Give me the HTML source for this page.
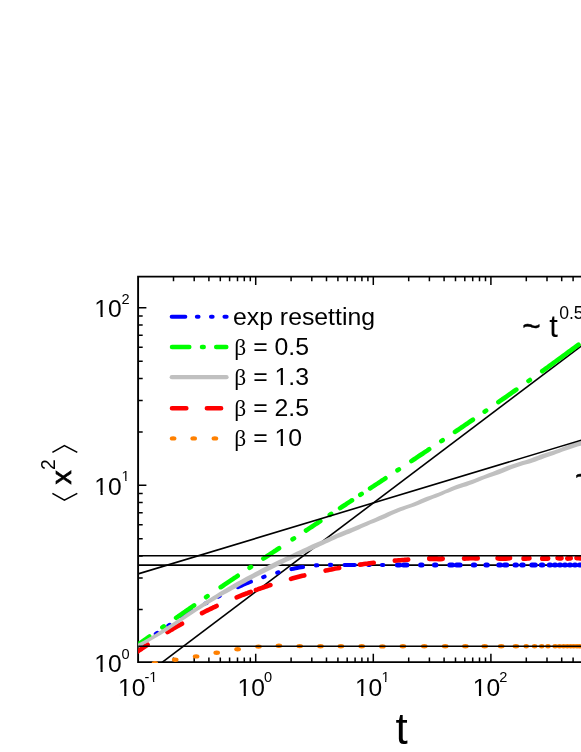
<!DOCTYPE html><html><head><meta charset="utf-8"><title>chart</title>
<style>html,body{margin:0;padding:0;background:#fff}svg{display:block;will-change:transform}text{font-family:"Liberation Sans",sans-serif;fill:#000}.s{font-family:"Liberation Serif",serif}</style></head><body>
<svg width="581" height="752" viewBox="0 0 581 752">
<rect width="581" height="752" fill="#fff"/>
<defs><clipPath id="c"><rect x="138.1" y="276.6" width="447.9" height="386.45"/></clipPath></defs>
<g stroke="#000" stroke-width="1.9" fill="none" stroke-linecap="butt">
<path d="M590,276.6 L138.1,276.6 L138.1,662.1 L590,662.1" stroke-linejoin="miter"/>
<path d="M173.5,662.1v-4.6M173.5,276.6v4.6M194.2,662.1v-4.6M194.2,276.6v4.6M208.9,662.1v-4.6M208.9,276.6v4.6M220.3,662.1v-4.6M220.3,276.6v4.6M229.6,662.1v-4.6M229.6,276.6v4.6M237.5,662.1v-4.6M237.5,276.6v4.6M244.3,662.1v-4.6M244.3,276.6v4.6M250.3,662.1v-4.6M250.3,276.6v4.6M255.7,662.1v-8.3M255.7,276.6v8.3M291.1,662.1v-4.6M291.1,276.6v4.6M311.8,662.1v-4.6M311.8,276.6v4.6M326.5,662.1v-4.6M326.5,276.6v4.6M337.9,662.1v-4.6M337.9,276.6v4.6M347.2,662.1v-4.6M347.2,276.6v4.6M355.1,662.1v-4.6M355.1,276.6v4.6M361.9,662.1v-4.6M361.9,276.6v4.6M367.9,662.1v-4.6M367.9,276.6v4.6M373.3,662.1v-8.3M373.3,276.6v8.3M408.7,662.1v-4.6M408.7,276.6v4.6M429.4,662.1v-4.6M429.4,276.6v4.6M444.1,662.1v-4.6M444.1,276.6v4.6M455.5,662.1v-4.6M455.5,276.6v4.6M464.8,662.1v-4.6M464.8,276.6v4.6M472.7,662.1v-4.6M472.7,276.6v4.6M479.5,662.1v-4.6M479.5,276.6v4.6M485.5,662.1v-4.6M485.5,276.6v4.6M490.9,662.1v-8.3M490.9,276.6v8.3M526.3,662.1v-4.6M526.3,276.6v4.6M547.0,662.1v-4.6M547.0,276.6v4.6M561.7,662.1v-4.6M561.7,276.6v4.6M573.1,662.1v-4.6M573.1,276.6v4.6M582.4,662.1v-4.6M582.4,276.6v4.6M138.1,609.4h4.6M138.1,578.1h4.6M138.1,555.9h4.6M138.1,538.7h4.6M138.1,524.7h4.6M138.1,512.8h4.6M138.1,502.5h4.6M138.1,493.4h4.6M138.1,485.3h8.3M138.1,431.9h4.6M138.1,400.6h4.6M138.1,378.4h4.6M138.1,361.2h4.6M138.1,347.2h4.6M138.1,335.3h4.6M138.1,325.0h4.6M138.1,315.9h4.6M138.1,307.8h8.3" stroke-width="1.5"/>
</g>
<g clip-path="url(#c)" fill="none" stroke-linecap="round" stroke-linejoin="round">
<path d="M138.1,565.1H590" stroke="#000" stroke-width="1.6" stroke-linecap="butt" fill="none"/>
<path d="M150,671.5L590,339.5" stroke="#000" stroke-width="1.6" stroke-linecap="butt" fill="none"/>
<path d="M139.7,644.5L141.2,643.5L142.8,642.5L144.3,641.4M155.8,633.8L157.2,632.8M168.3,625.7L169.7,624.8M181.7,617.3L183.5,616.2L185.2,615.1L187.0,614.1L188.7,613.1L190.5,612.0L192.2,611.0M205.3,603.5L206.7,602.8M218.3,596.6L219.7,595.9M237.9,587.2L239.7,586.3L241.6,585.5L243.4,584.7L245.3,583.9L247.2,583.2L249.0,582.4L250.9,581.7M263.2,577.1L264.6,576.6M277.2,572.7L278.6,572.3M291.5,569.1L293.4,568.7L295.3,568.3L297.2,567.9L299.1,567.6L301.1,567.3L303.0,567.0M315.9,565.4L317.3,565.3M329.8,564.9L331.2,564.9M344.5,565.0L346.3,565.0L348.0,565.0L349.7,565.0L351.4,565.0L353.1,565.0L354.8,565.0M368.3,565.0L369.7,565.0M381.9,565.0L383.3,565.0" stroke="#0000ff" stroke-width="4.1"/>
<path d="M397.4,565.0L398.4,565.0L399.5,565.0M403.5,565.0L405.2,565.0L406.9,565.0M420.6,565.0L422.0,565.0M434.5,565.0L435.9,565.0M449.8,565.0L451.1,565.0L452.5,565.0M456.5,565.0L458.3,565.0L460.1,565.0M473.3,565.0L474.7,565.0M485.9,565.0L487.3,565.0M498.8,565.0L500.5,565.0M504.5,565.0L505.6,565.0L506.7,565.0M515.0,565.0L516.4,565.0M521.8,565.0L523.2,565.0M531.8,565.0L533.5,565.0L535.3,565.0M541.3,565.0L542.7,565.0M549.3,565.0L550.5,565.0M554.5,565.0L555.5,565.0M559.5,565.0L560.5,565.0M564.5,565.0L565.5,565.0M569.5,565.0L570.5,565.0M574.5,565.0L575.5,565.0M579.5,565.0L581.0,565.0L582.5,565.0" stroke="#0000ff" stroke-width="5.0"/>
<path d="M131.9,649.0L133.8,647.6L135.8,646.2L137.7,644.8L139.7,643.4L141.6,642.1L143.6,640.7L145.5,639.3L147.5,637.9L149.4,636.5M162.4,627.4L163.8,626.4M176.1,617.8L177.9,616.6L179.7,615.3L181.5,614.1L183.3,612.8L185.1,611.6L186.9,610.3L188.7,609.1L190.5,607.8L192.3,606.6L194.1,605.4M206.1,597.2L207.5,596.2M220.7,587.2L222.6,586.0L224.5,584.7L226.4,583.4L228.3,582.1L230.1,580.9L232.0,579.6L233.9,578.3L235.8,577.1L237.7,575.8M249.6,567.8L251.0,566.9M263.4,558.6L265.4,557.3L267.3,556.0L269.3,554.7L271.2,553.4L273.2,552.1L275.2,550.8L277.1,549.5L279.1,548.2M292.6,539.3L294.0,538.4M306.0,530.5L307.8,529.3L309.6,528.1L311.4,527.0L313.1,525.8L314.9,524.6L316.7,523.5L318.5,522.3L320.3,521.1M329.8,514.9L331.2,513.9M340.1,508.1L342.1,506.8L344.1,505.5L346.1,504.2L348.0,502.9L350.0,501.6L352.0,500.3M360.3,494.8L361.7,493.9M370.1,488.4L372.0,487.1L373.9,485.9L375.8,484.6L377.8,483.4L379.7,482.1L381.6,480.8L383.5,479.6L385.4,478.3M397.5,470.3L398.9,469.4M411.4,461.1L413.4,459.8L415.4,458.5L417.3,457.1L419.3,455.8L421.3,454.5L423.3,453.2L425.2,451.9L427.2,450.6L429.2,449.2M441.3,441.1L442.7,440.2M455.0,431.9L457.0,430.5L459.0,429.2L461.0,427.8L463.0,426.5L464.9,425.1L466.9,423.8L468.9,422.4L470.9,421.0L472.9,419.7M484.7,411.6L486.1,410.6M498.4,402.1L500.4,400.7L502.4,399.3L504.4,398.0L506.4,396.6L508.4,395.2L510.3,393.8L512.3,392.4L514.3,391.0L516.3,389.6M528.5,381.0L529.9,380.0M542.2,371.2L544.1,369.8L546.0,368.4L547.9,367.1L549.8,365.7L551.7,364.3L553.6,362.9L555.5,361.5L557.4,360.1L559.4,358.7L561.3,357.3L563.2,355.9L565.1,354.5L567.0,353.1L568.9,351.7L570.8,350.3L572.7,348.9L574.6,347.5L576.5,346.1L578.5,344.7" stroke="#00ff00" stroke-width="4.6"/>
<path d="M131.9,655.6L133.8,654.2L135.8,652.8L137.8,651.4L139.7,650.0L141.7,648.7L143.7,647.3L145.6,646.0L147.6,644.7M167.5,632.1L169.3,631.0L171.1,629.9L172.9,628.9L174.7,627.8L176.5,626.7L178.4,625.7L180.2,624.7L182.0,623.7M202.0,613.1L203.8,612.2L205.6,611.3L207.4,610.4L209.3,609.5L211.1,608.6L212.9,607.7L214.8,606.9L216.6,606.0M236.7,597.3L238.5,596.6L240.3,595.9L242.0,595.2L243.8,594.5L245.5,593.8L247.3,593.2L249.1,592.5L250.8,591.8M255.9,590.0L257.7,589.4L259.5,588.7L261.3,588.1L263.1,587.5L265.0,586.8L266.8,586.2L268.6,585.6L270.4,585.0M291.0,578.9L292.9,578.3L294.8,577.8L296.7,577.3L298.6,576.8L300.5,576.3L302.4,575.8L304.3,575.4M325.6,570.6L327.5,570.2L329.5,569.8L331.4,569.4L333.4,569.0L335.3,568.6L337.3,568.3L339.2,567.9M359.8,564.6L361.8,564.4L363.8,564.1L365.8,563.8L367.7,563.6L369.7,563.3L371.7,563.0L373.7,562.8M394.8,560.6L396.7,560.5L398.6,560.3L400.5,560.2L402.5,560.0L404.4,559.9L406.3,559.7L408.2,559.6" stroke="#ff0000" stroke-width="4.6"/>
<path d="M429.6,558.5L431.5,558.5L433.3,558.5L435.1,558.6L436.9,558.7L438.7,558.8L440.5,558.8L442.4,558.7M464.4,558.4L466.3,558.2L468.1,558.0L470.0,557.8L471.8,557.8L473.7,557.8L475.5,558.0L477.4,558.1M497.9,558.1L499.9,558.3L501.8,558.4L503.8,558.4L505.7,558.3L507.7,558.1L509.7,557.9M523.9,558.4L525.7,558.4L527.4,558.2L529.1,558.1M542.6,558.4L544.3,558.4L546.1,558.4L547.8,558.3M557.9,557.9L559.6,558.1L561.2,558.2M567.6,558.3L569.0,558.2L570.4,558.1M576.8,557.8L578.6,557.9L580.4,558.1L582.1,558.3L583.9,558.4L585.6,558.4L587.4,558.4" stroke="#ff0000" stroke-width="5.3"/>
<path d="M129.3,647.9L132.3,646.5L135.2,645.1L138.2,643.6L141.2,642.0L144.1,640.4L147.1,638.7L150.1,637.0L153.1,635.2L156.1,633.4L159.0,631.6L162.0,629.7L165.0,627.8L168.0,625.8L171.0,623.9L174.0,621.9L177.0,619.9L180.0,617.9L182.9,615.9L185.9,613.8L188.9,611.8L191.9,609.8L194.9,607.8L197.9,605.9L200.9,603.9L203.9,602.0L206.9,600.1L209.9,598.2L212.9,596.3L215.9,594.4L218.9,592.6L221.9,590.8L224.9,589.0L227.8,587.2L230.8,585.5L233.8,583.7L236.8,582.0L239.9,580.4L242.9,578.7L245.9,577.1L248.9,575.5L251.9,573.9L254.9,572.3L257.9,570.7L260.9,569.1L263.9,567.6L266.9,566.0L269.9,564.5L272.9,563.0L275.9,561.6L278.9,560.1L281.9,558.7L284.9,557.2L288.0,555.8L291.0,554.4L294.0,553.0L297.0,551.6L300.0,550.2L303.0,548.8L306.0,547.4L309.0,546.0L312.0,544.6L315.0,543.3L318.0,542.0L321.1,540.7L324.1,539.4L327.1,538.1L330.1,536.7L333.1,535.4L336.1,534.0L339.1,532.7L342.1,531.4L345.2,530.2L348.2,529.1L351.1,527.9L354.1,526.7L357.1,525.5L360.2,524.2L363.2,523.0L366.2,521.7L369.2,520.4L372.2,519.2L375.2,517.9L378.2,516.6L381.1,515.3L384.1,513.9L387.1,512.5L390.1,511.2L393.2,509.9L396.2,508.7L399.3,507.6L402.4,506.6L405.4,505.6L408.4,504.5L411.3,503.4L414.3,502.2L417.2,500.9L420.2,499.6L423.2,498.3L426.2,497.1L429.3,496.0L432.3,494.9L435.3,493.8L438.3,492.7L441.3,491.5L444.3,490.2L447.2,488.9L450.2,487.6L453.3,486.2L456.3,485.0L459.3,483.9L462.3,482.9L465.3,482.0L468.3,481.0L471.3,480.0L474.3,479.0L477.2,477.8L480.3,476.6L483.3,475.4L486.3,474.2L489.3,473.0L492.3,471.9L495.2,470.8L498.2,469.6L501.1,468.4L504.1,467.3L507.1,466.1L510.2,464.9L513.3,463.9L516.4,462.9L519.4,462.0L522.4,461.1L525.4,460.2L528.3,459.3L531.3,458.2L534.2,457.1L537.2,456.0L540.2,454.8L543.2,453.8L546.3,452.8L549.3,451.8L552.3,450.9L555.3,450.0L558.3,448.9L561.3,447.8L564.2,446.6L567.2,445.4L570.3,444.2L573.3,443.1L576.4,442.2L579.4,441.4L582.4,440.6L585.4,439.9L588.4,439.1L591.4,438.2L592.6,442.1L589.6,443.1L586.6,444.1L583.6,445.0L580.6,445.8L577.6,446.6L574.7,447.5L571.7,448.4L568.8,449.4L565.8,450.5L562.7,451.6L559.7,452.7L556.7,453.8L553.7,454.9L550.7,456.0L547.7,457.0L544.8,458.1L541.8,459.2L538.8,460.3L535.8,461.4L532.7,462.4L529.7,463.4L526.6,464.3L523.6,465.1L520.6,465.9L517.6,466.9L514.7,467.9L511.8,469.1L508.9,470.3L505.9,471.6L502.9,472.8L499.8,474.0L496.8,475.0L493.7,476.0L490.7,477.0L487.7,478.0L484.7,479.1L481.7,480.3L478.8,481.5L475.7,482.8L472.7,484.0L469.7,485.1L466.7,486.2L463.7,487.1L460.7,488.1L457.7,489.0L454.7,490.0L451.8,491.2L448.8,492.4L445.7,493.6L442.7,494.9L439.7,496.2L436.7,497.4L433.7,498.6L430.7,499.8L427.8,501.0L424.8,502.2L421.8,503.5L418.8,504.7L415.7,505.9L412.7,507.0L409.6,508.1L406.6,509.1L403.6,510.2L400.7,511.3L397.8,512.5L394.8,513.8L391.9,515.1L388.9,516.5L385.9,517.9L382.9,519.3L379.8,520.5L376.8,521.7L373.8,522.9L370.8,524.1L367.8,525.4L364.8,526.7L361.8,528.1L358.9,529.4L355.9,530.8L352.9,532.1L349.8,533.4L346.8,534.5L343.9,535.7L340.9,536.9L337.9,538.1L334.9,539.4L331.9,540.8L328.9,542.2L325.9,543.6L322.9,545.0L320.0,546.3L317.0,547.7L314.0,549.1L311.0,550.5L308.0,551.8L305.0,553.2L302.0,554.6L299.0,556.0L296.0,557.4L293.0,558.8L290.0,560.2L287.1,561.6L284.1,563.1L281.1,564.6L278.1,566.1L275.1,567.5L272.1,569.0L269.1,570.5L266.1,572.0L263.1,573.5L260.1,575.1L257.1,576.6L254.1,578.1L251.1,579.7L248.1,581.3L245.1,582.9L242.1,584.5L239.2,586.2L236.2,587.9L233.2,589.5L230.2,591.2L227.1,592.9L224.1,594.6L221.1,596.3L218.1,598.1L215.1,599.9L212.1,601.7L209.1,603.5L206.1,605.4L203.1,607.2L200.1,609.2L197.1,611.1L194.1,613.1L191.1,615.0L188.1,617.0L185.1,619.0L182.0,621.0L179.0,623.0L176.0,625.0L173.0,627.0L170.0,628.9L167.0,630.9L164.0,632.8L161.0,634.7L157.9,636.5L154.9,638.3L151.9,640.1L148.9,641.8L145.9,643.5L142.8,645.1L139.8,646.7L136.8,648.2L133.7,649.7L130.7,651.1Z" fill="#c0c0c0" stroke="none"/>
<path d="M138.1,555.8H590" stroke="#000" stroke-width="1.6" stroke-linecap="butt" fill="none"/>
<path d="M138.1,573.9L590,437.5" stroke="#000" stroke-width="1.6" stroke-linecap="butt" fill="none"/>
<g fill="#ff8000" stroke="none"><ellipse cx="154.9" cy="663.2" rx="3.3" ry="2.2"/><ellipse cx="175.2" cy="659.7" rx="3.3" ry="2.2"/><ellipse cx="196.1" cy="656.4" rx="3.3" ry="2.2"/><ellipse cx="216.7" cy="652.7" rx="3.3" ry="2.2"/><ellipse cx="237.6" cy="649.2" rx="3.3" ry="2.2"/><ellipse cx="258.5" cy="646.6" rx="3.3" ry="2.2"/><ellipse cx="278.9" cy="645.8" rx="3.3" ry="2.2"/><ellipse cx="299.7" cy="646.1" rx="3.3" ry="2.2"/><ellipse cx="320.5" cy="646.2" rx="3.3" ry="2.2"/><ellipse cx="340.9" cy="646.2" rx="3.3" ry="2.2"/><ellipse cx="361.7" cy="646.2" rx="3.3" ry="2.2"/><ellipse cx="382.4" cy="646.4" rx="3.3" ry="2.2"/><ellipse cx="402.9" cy="646.2" rx="3.3" ry="2.2"/><ellipse cx="424.3" cy="646.2" rx="3.3" ry="2.2"/><ellipse cx="445.2" cy="646.3" rx="3.3" ry="2.2"/><ellipse cx="465.4" cy="646.2" rx="3.3" ry="2.2"/><ellipse cx="484.7" cy="646.3" rx="3.3" ry="2.2"/><ellipse cx="501.2" cy="646.3" rx="3.3" ry="2.2"/><ellipse cx="515.9" cy="646.3" rx="3.3" ry="2.2"/><ellipse cx="526.2" cy="646.3" rx="2.7" ry="2.2"/><ellipse cx="534.6" cy="646.3" rx="2.7" ry="2.2"/><ellipse cx="541.7" cy="646.3" rx="2.7" ry="2.2"/><ellipse cx="548" cy="646.3" rx="2.7" ry="2.2"/><ellipse cx="555.1" cy="646.3" rx="2.7" ry="2.2"/><ellipse cx="559.5" cy="646.3" rx="2.7" ry="2.2"/><ellipse cx="563.6" cy="646.3" rx="2.7" ry="2.2"/><ellipse cx="567.3" cy="646.3" rx="2.7" ry="2.2"/><ellipse cx="570.7" cy="646.3" rx="2.7" ry="2.2"/><ellipse cx="573.8" cy="646.3" rx="2.7" ry="2.2"/><ellipse cx="577" cy="646.3" rx="2.7" ry="2.2"/><ellipse cx="579.6" cy="646.3" rx="2.7" ry="2.2"/></g>
<path d="M138.1,646.3H590" stroke="#000" stroke-width="1.6" stroke-linecap="butt" fill="none"/>
</g>
<text x="121.7" y="317.2" font-size="24.6" text-anchor="end">10</text>
<text x="121.6" y="303.9" font-size="14.6">2</text>
<text x="121.7" y="494.7" font-size="24.6" text-anchor="end">10</text>
<text x="121.6" y="481.4" font-size="14.6">1</text>
<text x="121.7" y="672.2" font-size="24.6" text-anchor="end">10</text>
<text x="121.6" y="658.9" font-size="14.6">0</text>
<text x="145.4" y="695.9" font-size="24.6" text-anchor="end">10</text>
<text x="144.5" y="682.3" font-size="14.6">-1</text>
<text x="264.9" y="695.9" font-size="24.6" text-anchor="end">10</text>
<text x="264.0" y="682.3" font-size="14.6">0</text>
<text x="382.3" y="695.9" font-size="24.6" text-anchor="end">10</text>
<text x="381.4" y="682.3" font-size="14.6">1</text>
<text x="500.1" y="695.9" font-size="24.6" text-anchor="end">10</text>
<text x="499.2" y="682.3" font-size="14.6">2</text>
<g fill="none" stroke-linecap="round">
<path d="M171.7,316.8H185.3M196.9,316.8h1.6M211,316.8h1.6M224.5,316.8H226.6" stroke="#0000ff" stroke-width="4.1"/>
<path d="M172,347H189.3M202,347h1.7M216.2,347H226.3" stroke="#00ff00" stroke-width="4.5"/>
<path d="M171.8,377.2H226.5" stroke="#c0c0c0" stroke-width="4.3"/>
<path d="M172,408.2H186.3M206.9,408.2H221.1" stroke="#ff0000" stroke-width="4.6"/>
</g>
<g fill="#ff8000"><ellipse cx="173.1" cy="438.4" rx="3.3" ry="2.2"/><ellipse cx="193.7" cy="438.4" rx="3.3" ry="2.2"/><ellipse cx="214.9" cy="438.4" rx="3.3" ry="2.2"/></g>
<text x="233" y="324.7" font-size="24.8">exp resetting</text>
<text x="234.3" y="355.0" font-size="24.8"><tspan class="s" font-size="23.5">β</tspan> = 0.5</text>
<text x="234.3" y="385.4" font-size="24.8"><tspan class="s" font-size="23.5">β</tspan> = 1.3</text>
<text x="234.3" y="415.8" font-size="24.8"><tspan class="s" font-size="23.5">β</tspan> = 2.5</text>
<text x="234.3" y="446.2" font-size="24.8"><tspan class="s" font-size="23.5">β</tspan> = 10</text>
<text x="401.7" y="744.4" font-size="44" text-anchor="middle">t</text>
<g stroke="#000" stroke-width="1.6" fill="none" stroke-linejoin="miter"><path d="M52.4,452.4L64.4,445.6L77.3,452.4"/><path d="M52.4,493.4L64.4,500.2L77.3,493.4"/></g>
<text transform="translate(71.1,484.6) rotate(-90)" font-size="28.3" stroke="#000" stroke-width="0.7">x</text>
<text transform="translate(55.1,470) rotate(-90)" font-size="19.4">2</text>
<text x="522.2" y="336.6" font-size="31.5" stroke="#000" stroke-width="0.45">~</text>
<text x="549.2" y="336.8" font-size="31">t</text>
<text x="559.2" y="319.1" font-size="17.6">0.5</text>
<text x="575.0" y="487.0" font-size="31.5" stroke="#000" stroke-width="0.45">~</text>
<g fill="#fff" stroke="none"><rect x="95.41" y="314.66" width="5.11" height="3.24"/><rect x="102.70" y="314.66" width="4.92" height="3.24"/><rect x="95.41" y="492.16" width="5.11" height="3.24"/><rect x="102.70" y="492.16" width="4.92" height="3.24"/><rect x="121.91" y="479.61" width="3.36" height="2.49"/><rect x="126.56" y="479.61" width="3.25" height="2.49"/><rect x="95.41" y="669.66" width="5.11" height="3.24"/><rect x="102.70" y="669.66" width="4.92" height="3.24"/><rect x="119.11" y="693.36" width="5.11" height="3.24"/><rect x="126.40" y="693.36" width="4.92" height="3.24"/><rect x="149.67" y="680.51" width="3.36" height="2.49"/><rect x="154.32" y="680.51" width="3.25" height="2.49"/><rect x="238.61" y="693.36" width="5.11" height="3.24"/><rect x="245.90" y="693.36" width="4.92" height="3.24"/><rect x="356.01" y="693.36" width="5.11" height="3.24"/><rect x="363.30" y="693.36" width="4.92" height="3.24"/><rect x="381.71" y="680.51" width="3.36" height="2.49"/><rect x="386.36" y="680.51" width="3.25" height="2.49"/><rect x="473.81" y="693.36" width="5.11" height="3.24"/><rect x="481.10" y="693.36" width="4.92" height="3.24"/><rect x="275.61" y="382.85" width="5.15" height="3.25"/><rect x="282.95" y="382.85" width="4.95" height="3.25"/><rect x="275.61" y="443.65" width="5.15" height="3.25"/><rect x="282.95" y="443.65" width="4.95" height="3.25"/></g>
</svg></body></html>
